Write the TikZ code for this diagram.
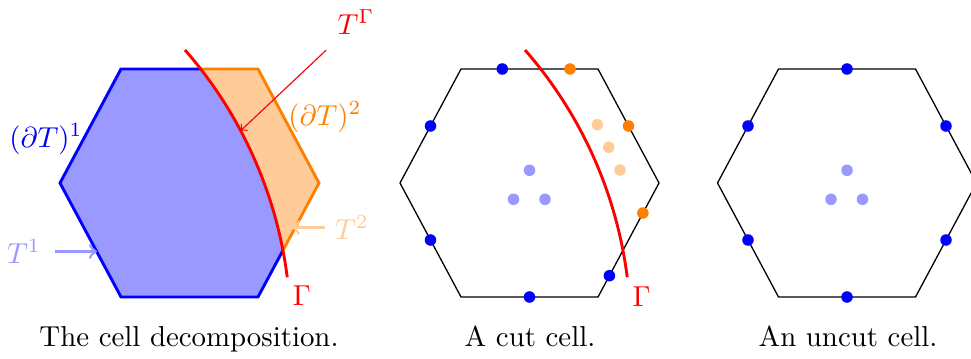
\documentclass[tikz,border=0pt]{standalone}
\usetikzlibrary{arrows}
\tikzset{
  bnd/.style={line width=1pt, line join=miter},
  gam/.style={red, line width=1pt},
  thinhex/.style={black, line width=0.45pt},
  dot/.style={circle, fill, inner sep=0pt, minimum size=4pt},
  bdot/.style={dot, fill=blue},
  odot/.style={dot, fill=orange},
  lbdot/.style={dot, fill=blue!40},
  lodot/.style={dot, fill=orange!40},
  lbl/.style={inner sep=3.33pt},
  captxt/.style={anchor=base},
}
\begin{document}
\begin{tikzpicture}[x=0.3466pt, y=0.3466pt]
\useasboundingbox (0,0) rectangle (971,358);
% ---------- panel 1 ----------
\begin{scope}[shift={(189.5,175)}]
  \begin{scope}
    \clip (-68.5,114) -- (68.5,114) -- (129.5,0) -- (68.5,-114) -- (-68.5,-114) -- (-129.5,0) -- cycle;
    \fill[blue!40] (-4.5,133) arc[start angle=41.2, end angle=7.24, radius=147.86pt] -- (97.8,-300) -- (-300,-300) -- (-300,300) -- (-4.5,300) -- cycle;
    \fill[orange!40] (-4.5,133) arc[start angle=41.2, end angle=7.24, radius=147.86pt] -- (97.8,-300) -- (300,-300) -- (300,300) -- (-4.5,300) -- cycle;
  \end{scope}
  \begin{scope}
    \clip (-4.5,133) arc[start angle=41.2, end angle=7.24, radius=147.86pt] -- (97.8,-300) -- (-300,-300) -- (-300,300) -- (-4.5,300) -- cycle;
    \draw[bnd, blue] (-68.5,114) -- (68.5,114) -- (129.5,0) -- (68.5,-114) -- (-68.5,-114) -- (-129.5,0) -- cycle;
  \end{scope}
  \begin{scope}
    \clip (-4.5,133) arc[start angle=41.2, end angle=7.24, radius=147.86pt] -- (97.8,-300) -- (300,-300) -- (300,300) -- (-4.5,300) -- cycle;
    \draw[bnd, orange] (-68.5,114) -- (68.5,114) -- (129.5,0) -- (68.5,-114) -- (-68.5,-114) -- (-129.5,0) -- cycle;
  \end{scope}
  \draw[gam] (-4.5,133) arc[start angle=41.2, end angle=7.24, radius=147.86pt];
\end{scope}
\node[lbl, red] (tg) at (356,336) {$T^{\Gamma}$};
\coordinate (tgtip) at (240.7,227.3);
\draw[red, line width=0.4pt, ->, shorten <=3pt] (tg) -- (tgtip);
\node[lbl, blue] (dt1) at (46,219) {$(\partial T)^1$};
\node[lbl, orange] (dt2) at (325,241) {$(\partial T)^2$};
\node[lbl, blue!40] (t1) at (24,106.5) {$T^1$};
\coordinate (t1tip) at (97,106.5);
\draw[blue!40, line width=0.9pt, ->, shorten <=1.5pt] (t1) -- (t1tip);
\node[lbl, orange!40] (t2) at (352,130.5) {$T^2$};
\coordinate (t2tip) at (291.7,130.5);
\draw[orange!40, line width=0.9pt, ->] (t2) -- (t2tip);
\node[lbl, red] (g1) at (302,62) {$\Gamma$};
\node[captxt] (c1) at (189,12) {The cell decomposition.};
% ---------- panel 2 ----------
\begin{scope}[shift={(529.5,175)}]
  \draw[thinhex] (-68.5,114) -- (68.5,114) -- (129.5,0) -- (68.5,-114) -- (-68.5,-114) -- (-129.5,0) -- cycle;
  \draw[gam] (-4.5,133) arc[start angle=41.2, end angle=7.24, radius=147.86pt];
  \node[bdot] (p2b1) at (-27.2,114) {};
  \node[bdot] (p2b2) at (-99,57) {};
  \node[bdot] (p2b3) at (-99,-57) {};
  \node[bdot] (p2b4) at (0,-114) {};
  \node[bdot] (p2b5) at (79.9,-92.7) {};
  \node[odot] (p2o1) at (40.5,114) {};
  \node[odot] (p2o2) at (99,57) {};
  \node[odot] (p2o3) at (113.4,-30) {};
  \node[lodot] (p2lo1) at (67.8,58.3) {};
  \node[lodot] (p2lo2) at (79.2,35.7) {};
  \node[lodot] (p2lo3) at (90.5,13) {};
  \node[lbdot] (p2lb1) at (0,12.7) {};
  \node[lbdot] (p2lb2) at (-16,-16.3) {};
  \node[lbdot] (p2lb3) at (15.5,-16.3) {};
\end{scope}
\node[lbl, red] (g2) at (641.5,61.5) {$\Gamma$};
\node[captxt] (c2) at (530,12) {A cut cell.};
% ---------- panel 3 ----------
\begin{scope}[shift={(847,175)}]
  \draw[thinhex] (-68.5,114) -- (68.5,114) -- (129.5,0) -- (68.5,-114) -- (-68.5,-114) -- (-129.5,0) -- cycle;
  \node[bdot] (p3b1) at (0,114) {};
  \node[bdot] (p3b2) at (-99,57) {};
  \node[bdot] (p3b3) at (99,57) {};
  \node[bdot] (p3b4) at (-99,-57) {};
  \node[bdot] (p3b5) at (99,-57) {};
  \node[bdot] (p3b6) at (0,-114) {};
  \node[lbdot] (p3lb1) at (0,12.7) {};
  \node[lbdot] (p3lb2) at (-16,-16.3) {};
  \node[lbdot] (p3lb3) at (15.5,-16.3) {};
\end{scope}
\node[captxt] (c3) at (848,12) {An uncut cell.};
\end{tikzpicture}
\end{document}
